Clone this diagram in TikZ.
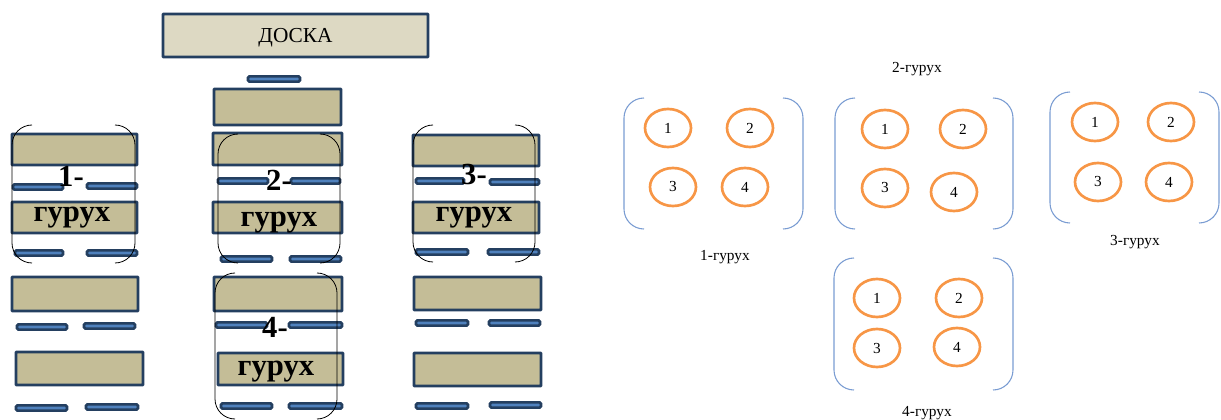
\documentclass[tikz,border=0pt]{standalone}
\usepackage{fontspec}
\setmainfont{Liberation Serif}
\usetikzlibrary{shapes.geometric}
\definecolor{navy}{HTML}{243F60}
\definecolor{benchblue}{HTML}{4F81BD}
\definecolor{deskfill}{HTML}{C4BD97}
\definecolor{boardfill}{HTML}{DDD9C3}
\definecolor{orng}{HTML}{F79646}
\definecolor{brblue}{HTML}{7A9CD2}
\tikzset{
  desk/.style={draw=navy, fill=deskfill, line width=2.2pt, rounded corners=0.5pt},
  board/.style={draw=navy, fill=boardfill, line width=2.2pt, rounded corners=0.5pt},
  bench/.style={draw=navy, fill=benchblue, line width=1.9pt, rounded corners=1pt},
  lbr/.style={draw=black, line width=0.6pt},
  rbr/.style={draw=brblue, line width=0.8pt},
  pupil/.style={ellipse, draw=orng, line width=2pt, inner sep=0pt, minimum width=34.5pt, minimum height=28.5pt, font=\fontsize{11.5}{13}\selectfont},
  glabel/.style={font=\fontsize{23}{27}\selectfont\bfseries, inner sep=0pt, anchor=base},
  rlabel/.style={font=\fontsize{11.5}{14}\selectfont, inner sep=0pt}
}
\newcommand\mybench[3]{\draw[bench] (#1,#3-2.6) rectangle (#2,#3+2.6);}
\newcommand\mybrk[7]{%
  \draw[#7, rounded corners=15pt] (#1+20,#3) -- (#1,#3) -- (#1,#4) -- (#1+20,#4);
  \draw[#7, rounded corners=15pt] (#2-20,#3) -- (#2,#3) -- (#2,#4) -- (#2-20,#4);}
\begin{document}
\begin{tikzpicture}[x=0.75pt, y=-0.75pt]
\useasboundingbox (0,0) rectangle (1221,420);
% board
\draw[board] (163,14) rectangle (428,57);
\node[inner sep=0pt, anchor=base, font=\fontsize{16}{19}\selectfont] (doska) at (295.5,43) {ДОСКА};
% teacher bench and front desk
\mybench{248}{300}{79}
\draw[desk] (214,89) rectangle (341,125);
% column 1
\draw[desk] (12,134) rectangle (137,165);
\mybench{13}{63}{187}\mybench{87}{137}{186}
\draw[desk] (12,202) rectangle (137,233);
\mybench{15}{63}{253}\mybench{87}{137}{253}
\draw[desk] (12,277) rectangle (138,311);
\mybench{17}{67}{327}\mybench{84}{135}{326}
\draw[desk] (16,352) rectangle (143,385);
\mybench{16}{67}{408}\mybench{86}{138}{407}
% column 2
\draw[desk] (213,133) rectangle (342,165);
\mybench{218}{268}{181}\mybench{291}{340}{181}
\draw[desk] (213,202) rectangle (342,233);
\mybench{221}{272}{259}\mybench{290}{341}{259}
\draw[desk] (214,277) rectangle (342,311);
\mybench{216}{267}{325}\mybench{289}{342}{325}
\draw[desk] (218,353) rectangle (343,385);
\mybench{221}{272}{406}\mybench{289}{342}{406}
% column 3
\draw[desk] (413,135) rectangle (539,166);
\mybench{416}{464}{181}\mybench{490}{539}{182}
\draw[desk] (413,202) rectangle (539,233);
\mybench{416}{468}{252}\mybench{488}{539}{252}
\draw[desk] (414,277) rectangle (541,310);
\mybench{416}{468}{323}\mybench{489}{540}{323}
\draw[desk] (414,353) rectangle (541,386);
\mybench{416}{468}{406}\mybench{490}{541}{405}
% group brackets (left plan)
\mybrk{12}{135}{125}{263}{}{}{lbr}
\mybrk{218}{340}{134}{263}{}{}{lbr}
\mybrk{413}{535}{125}{262}{}{}{lbr}
\mybrk{215}{337}{273}{419}{}{}{lbr}
% group labels (left plan)
\node[glabel] (g1a) at (71,187) {1-};
\node[glabel] (g1b) at (72,222) {гурух};
\node[glabel] (g2a) at (279,191) {2-};
\node[glabel] (g2b) at (279,227) {гурух};
\node[glabel] (g3a) at (474,185) {3-};
\node[glabel] (g3b) at (474,222) {гурух};
\node[glabel] (g4a) at (275,338) {4-};
\node[glabel] (g4b) at (276,375) {гурух};
% right side groups
\mybrk{624}{803}{98}{229}{}{}{rbr}
\node[pupil] (a1) at (668,128) {1};
\node[pupil] (a2) at (750,128) {2};
\node[pupil] (a3) at (673,187) {3};
\node[pupil] (a4) at (745,187) {4};
\node[rlabel] (la) at (725,257) {1-гурух};
\mybrk{835}{1013}{98}{229}{}{}{rbr}
\node[pupil] (b1) at (885,129) {1};
\node[pupil] (b2) at (963,129) {2};
\node[pupil] (b3) at (885,188) {3};
\node[pupil] (b4) at (954,192) {4};
\node[rlabel] (lb) at (917,69) {2-гурух};
\mybrk{1050}{1219}{92}{223}{}{}{rbr}
\node[pupil] (c1) at (1095,122) {1};
\node[pupil] (c2) at (1171,122) {2};
\node[pupil] (c3) at (1098,182) {3};
\node[pupil] (c4) at (1169,182) {4};
\node[rlabel] (lc) at (1135,242) {3-гурух};
\mybrk{834}{1013}{258}{390}{}{}{rbr}
\node[pupil] (d1) at (877,298) {1};
\node[pupil] (d2) at (959,298) {2};
\node[pupil] (d3) at (877,348) {3};
\node[pupil] (d4) at (957,347) {4};
\node[rlabel] (ld) at (927,413) {4-гурух};
\end{tikzpicture}
\end{document}
